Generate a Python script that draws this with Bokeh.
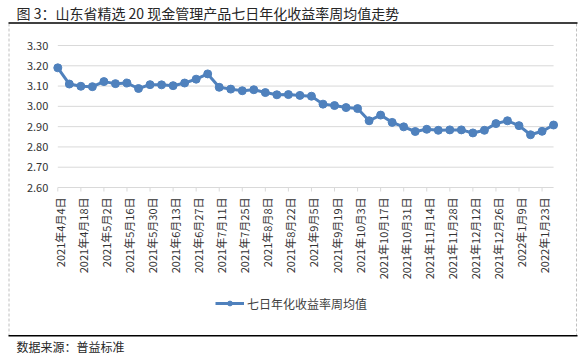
import math
from bokeh.plotting import figure
from bokeh.models import Range1d, Legend, LegendItem, ColumnDataSource
from bokeh.core.properties import value
from bokeh.embed import file_html
from bokeh.resources import INLINE

# ---------------- data ----------------
week_dates = [
    "2021年4月4日", "2021年4月11日", "2021年4月18日", "2021年4月25日",
    "2021年5月2日", "2021年5月9日", "2021年5月16日", "2021年5月23日", "2021年5月30日",
    "2021年6月6日", "2021年6月13日", "2021年6月20日", "2021年6月27日",
    "2021年7月4日", "2021年7月11日", "2021年7月18日", "2021年7月25日",
    "2021年8月1日", "2021年8月8日", "2021年8月15日", "2021年8月22日", "2021年8月29日",
    "2021年9月5日", "2021年9月12日", "2021年9月19日", "2021年9月26日",
    "2021年10月3日", "2021年10月10日", "2021年10月17日", "2021年10月24日", "2021年10月31日",
    "2021年11月7日", "2021年11月14日", "2021年11月21日", "2021年11月28日",
    "2021年12月5日", "2021年12月12日", "2021年12月19日", "2021年12月26日",
    "2022年1月2日", "2022年1月9日", "2022年1月16日", "2022年1月23日", "2022年1月30日",
]
avg_yield = [
    3.190, 3.110, 3.099, 3.097, 3.122, 3.112, 3.115, 3.088, 3.107, 3.106,
    3.102, 3.115, 3.134, 3.160, 3.094, 3.085, 3.077, 3.082, 3.068, 3.057,
    3.058, 3.054, 3.050, 3.011, 3.004, 2.994, 2.989, 2.929, 2.957, 2.921,
    2.899, 2.876, 2.887, 2.882, 2.884, 2.884, 2.869, 2.882, 2.915, 2.929,
    2.905, 2.860, 2.877, 2.908,
]
y_ticks = [2.60, 2.70, 2.80, 2.90, 3.00, 3.10, 3.20, 3.30]
series_name = "七日年化收益率周均值"
title_text = "图 3：山东省精选 20 现金管理产品七日年化收益率周均值走势"
source_text = "数据来源：普益标准"

# ---------------- layout / style ----------------
W, H = 584, 355
X0_PX, STEP_PX = 57.3, 11.53          # pixel of first category, px per category
Y_TOP_PX, Y_BOT_PX = 45.0, 187.0      # pixel of top / bottom y tick
BLUE = "#4f81bd"
GRID = "#d9d9d9"
FONT = "Noto Sans CJK SC"
TXT = "#333333"

n = len(avg_yield)
ppu = (Y_BOT_PX - Y_TOP_PX) / (y_ticks[-1] - y_ticks[0])

p = figure(width=W, height=H, output_backend="svg", toolbar_location=None,
           title=None, x_axis_location=None, y_axis_location=None,
           x_range=Range1d(-X0_PX / STEP_PX, (W - X0_PX) / STEP_PX),
           y_range=Range1d(y_ticks[0] - (H - Y_BOT_PX) / ppu, y_ticks[-1] + Y_TOP_PX / ppu),
           min_border=0)
p.extra_x_ranges = {"px": Range1d(0, W)}
p.extra_y_ranges = {"px": Range1d(H, 0)}
p.outline_line_color = None
p.background_fill_color = "white"
p.border_fill_color = "white"
p.grid.visible = False

# ---- page furniture (pixel coordinates) ----
p.text(x=[16], y=[12.5], text=[title_text], x_range_name="px", y_range_name="px",
       text_font=value(FONT), text_font_size="14px", text_color="#262626",
       text_baseline="middle", text_align="left")
# dashed outer frame (left / right)
p.segment(x0=[8.5, 576], x1=[8.5, 576], y0=[23, 23], y1=[335, 335],
          x_range_name="px", y_range_name="px",
          line_color="#c0c0c0", line_width=1, line_dash="3 2")
# black rules
p.segment(x0=[8, 8], x1=[577, 577], y0=[22.5, 335.3], y1=[22.5, 335.3],
          x_range_name="px", y_range_name="px", line_color="black", line_width=1.5)
p.text(x=[16], y=[346], text=[source_text], x_range_name="px", y_range_name="px",
       text_font=value(FONT), text_font_size="12px", text_color="#262626",
       text_baseline="middle", text_align="left")

# ---- chart ----
grid_y = y_ticks[1:]
p.segment(x0=[0] * len(grid_y), x1=[n - 1] * len(grid_y), y0=grid_y, y1=grid_y,
          line_color=GRID, line_width=1)
# category axis line + tick marks
p.segment(x0=[0], x1=[n - 1], y0=[y_ticks[0]], y1=[y_ticks[0]], line_color=GRID, line_width=1)
xt = list(range(0, n, 2))
p.ray(x=xt, y=[y_ticks[0]] * len(xt), length=4, length_units="screen",
      angle=-math.pi / 2, line_color=GRID, line_width=1)
# category labels
p.text(x=xt, y=[y_ticks[0]] * len(xt), text=[week_dates[i] for i in xt],
       angle=math.pi / 2, x_offset=2, y_offset=10, text_align="right", text_baseline="middle",
       text_font=value(FONT), text_font_size="11px", text_color=TXT)
# value labels
p.text(x=[0] * len(y_ticks), y=y_ticks, text=["%.2f" % v for v in y_ticks],
       x_offset=-9.5, text_align="right", text_baseline="middle",
       text_font=value(FONT), text_font_size="11px", text_color=TXT)

src = ColumnDataSource(dict(x=list(range(n)), y=avg_yield, d=week_dates))
r_line = p.line("x", "y", source=src, line_color=BLUE, line_width=3)
r_pts = p.scatter("x", "y", source=src, marker="circle", size=8,
                  fill_color=BLUE, line_color=BLUE)

legend = Legend(items=[LegendItem(label=series_name, renderers=[r_line, r_pts])],
                location=(215, H - 305.7 - 6), orientation="horizontal",
                glyph_width=29, glyph_height=12, label_height=12, label_standoff=3,
                padding=0, margin=0, spacing=0,
                border_line_color=None, background_fill_alpha=0,
                label_text_font=FONT, label_text_font_size="12px",
                label_text_color="#404040")
p.add_layout(legend)

open("out.html", "w").write(file_html(p, INLINE))
